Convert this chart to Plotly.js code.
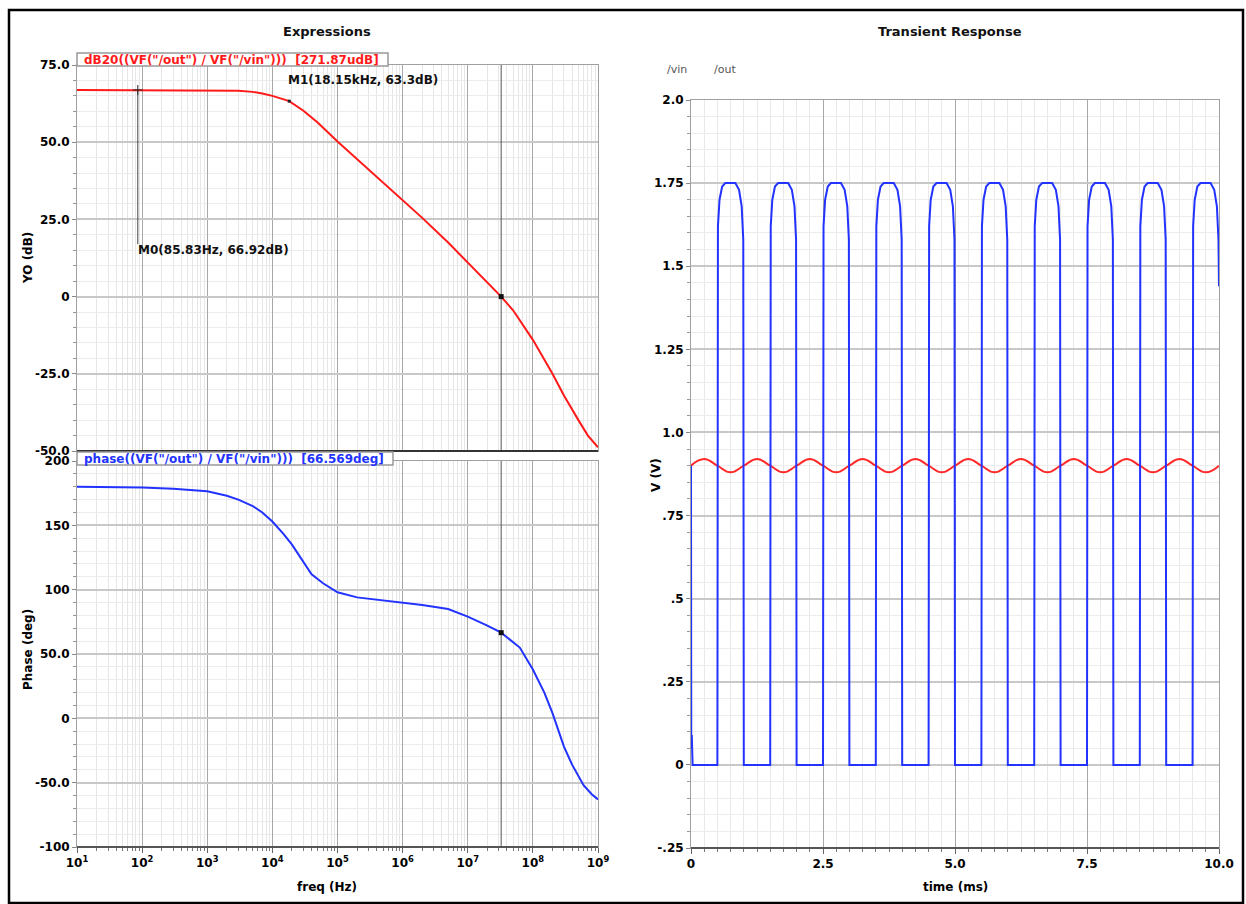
<!DOCTYPE html>
<html><head><meta charset="utf-8">
<script src="https://cdn.plot.ly/plotly-3.0.1.min.js"></script>
<style>html,body{margin:0;padding:0;background:#fff}#chart{width:1246px;height:904px}</style>
</head><body><div id="chart"></div>
<script>
// ---------- data ----------
const magFreq = [10, 100, 1000, 2000, 3000, 5000, 7000, 10000, 18150, 30000, 50000, 100000, 200000, 500000, 1e6, 2e6, 5e6, 1e7, 2e7, 3.26e7, 5e7, 1e8, 2e8, 3e8, 5e8, 7e8, 1e9];
const magDB   = [66.92, 66.92, 66.9, 66.85, 66.7, 66.3, 65.8, 65.0, 63.3, 60.2, 56.3, 50.2, 44.5, 37.0, 31.0, 25.5, 17.5, 11.0, 4.5, 0, -4.5, -14, -25, -32, -40, -45, -48.8];

const phFreq = [10, 30, 100, 300, 1000, 2000, 3000, 5000, 7000, 10000, 15000, 20000, 30000, 40000, 60000, 100000, 200000, 500000, 1e6, 2e6, 5e6, 1e7, 2e7, 3.26e7, 6.3e7, 1e8, 1.5e8, 2e8, 3e8, 4e8, 6e8, 8e8, 1e9];
const phDeg  = [180, 179.8, 179.4, 178.5, 176.5, 173, 170, 165, 160, 153, 143, 135, 121, 112, 105, 98, 94, 91.5, 90, 88, 85, 79, 72, 66.569, 55, 38, 20, 4, -22, -36, -52, -59, -63];

const vinT = [0,0.25,0.5,0.75,1,1.25,1.5,1.75,2,2.25,2.5,2.75,3,3.25,3.5,3.75,4,4.25,4.5,4.75,5,5.25,5.5,5.75,6,6.25,6.5,6.75,7,7.25,7.5,7.75,8,8.25,8.5,8.75,9,9.25,9.5,9.75,10];
const vinV = [0.9,0.92,0.9,0.88, 0.9,0.92,0.9,0.88, 0.9,0.92,0.9,0.88, 0.9,0.92,0.9,0.88, 0.9,0.92,0.9,0.88, 0.9,0.92,0.9,0.88, 0.9,0.92,0.9,0.88, 0.9,0.92,0.9,0.88, 0.9,0.92,0.9,0.88, 0.9,0.92,0.9,0.88, 0.9];

const outT = [0,0.005,0.015,0.03,
  0.5,0.51,0.54,0.59,0.65,0.84,0.91,0.96,0.99,1.0,
  1.5,1.51,1.54,1.59,1.65,1.84,1.91,1.96,1.99,2.0,
  2.5,2.51,2.54,2.59,2.65,2.84,2.91,2.96,2.99,3.0,
  3.5,3.51,3.54,3.59,3.65,3.84,3.91,3.96,3.99,4.0,
  4.5,4.51,4.54,4.59,4.65,4.84,4.91,4.96,4.99,5.0,
  5.5,5.51,5.54,5.59,5.65,5.84,5.91,5.96,5.99,6.0,
  6.5,6.51,6.54,6.59,6.65,6.84,6.91,6.96,6.99,7.0,
  7.5,7.51,7.54,7.59,7.65,7.84,7.91,7.96,7.99,8.0,
  8.5,8.51,8.54,8.59,8.65,8.84,8.91,8.96,8.99,9.0,
  9.5,9.51,9.54,9.59,9.65,9.84,9.91,9.96,9.99,10.0];
const outV = [0.9,0.05,0.09,0,
  0,1.62,1.70,1.74,1.75,1.75,1.73,1.68,1.58,0,
  0,1.62,1.70,1.74,1.75,1.75,1.73,1.68,1.58,0,
  0,1.62,1.70,1.74,1.75,1.75,1.73,1.68,1.58,0,
  0,1.62,1.70,1.74,1.75,1.75,1.73,1.68,1.58,0,
  0,1.62,1.70,1.74,1.75,1.75,1.73,1.68,1.58,0,
  0,1.62,1.70,1.74,1.75,1.75,1.73,1.68,1.58,0,
  0,1.62,1.70,1.74,1.75,1.75,1.73,1.68,1.58,0,
  0,1.62,1.70,1.74,1.75,1.75,1.73,1.68,1.58,0,
  0,1.62,1.70,1.74,1.75,1.75,1.73,1.68,1.58,0,
  0,1.62,1.70,1.74,1.75,1.75,1.73,1.68,1.58,1.44];

// markers
const m0 = {f: 85.83, db: 66.92, label: 'M0(85.83Hz, 66.92dB)'};
const m1 = {f: 18150, db: 63.3, label: 'M1(18.15kHz, 63.3dB)'};
const ugf = {f: 3.26e7, db: 0, deg: 66.569};

// tick labels
const freqTickVals = [10, 100, 1000, 1e4, 1e5, 1e6, 1e7, 1e8, 1e9];
const freqTickText = ['10<sup>1</sup>','10<sup>2</sup>','10<sup>3</sup>','10<sup>4</sup>','10<sup>5</sup>','10<sup>6</sup>','10<sup>7</sup>','10<sup>8</sup>','10<sup>9</sup>'];
const magTickVals = [75, 50, 25, 0, -25, -50];
const magTickText = ['75.0','50.0','25.0','0','-25.0','-50.0'];
const phTickVals = [200, 150, 100, 50, 0, -50, -100];
const phTickText = ['200','150','100','50.0','0','-50.0','-100'];
const vTickVals = [2.0, 1.75, 1.5, 1.25, 1.0, 0.75, 0.5, 0.25, 0, -0.25];
const vTickText = ['2.0','1.75','1.5','1.25','1.0','.75','.5','.25','0','-.25'];
const tTickVals = [0, 2.5, 5, 7.5, 10];
const tTickText = ['0','2.5','5.0','7.5','10.0'];

// ---------- layout helpers ----------
const W = 1246, H = 904;
const px = x => x / W;
const py = y => 1 - y / H;
const FONT = 'DejaVu Sans, Arial, sans-serif';
const tickFont = {family: FONT, size: 12, color: '#000', weight: 'bold'};

const RED = '#ff1a1a', BLUE = '#2233ff', MK = '#444';

const traces = [
  {x: [ugf.f, ugf.f], y: [-50, 75], xaxis: 'x', yaxis: 'y', mode: 'lines', line: {color: '#555', width: 1}},
  {x: [ugf.f, ugf.f], y: [-100, 200], xaxis: 'x2', yaxis: 'y2', mode: 'lines', line: {color: '#555', width: 1}},
  {x: [m0.f, m0.f], y: [m0.db, 17], xaxis: 'x', yaxis: 'y', mode: 'lines', line: {color: MK, width: 1}},
  {x: magFreq, y: magDB, xaxis: 'x', yaxis: 'y', mode: 'lines', line: {color: RED, width: 2}},
  {x: phFreq, y: phDeg, xaxis: 'x2', yaxis: 'y2', mode: 'lines', line: {color: BLUE, width: 2}},
  {x: [m0.f], y: [m0.db], xaxis: 'x', yaxis: 'y', mode: 'markers', marker: {symbol: 'cross-thin', size: 7, line: {color: '#222', width: 1}}},
  {x: [m1.f], y: [m1.db], xaxis: 'x', yaxis: 'y', mode: 'markers', marker: {symbol: 'square', size: 3, color: '#222'}},
  {x: [ugf.f], y: [ugf.db], xaxis: 'x', yaxis: 'y', mode: 'markers', marker: {symbol: 'square', size: 5, color: '#111'}},
  {x: [ugf.f], y: [ugf.deg], xaxis: 'x2', yaxis: 'y2', mode: 'markers', marker: {symbol: 'square', size: 5, color: '#111'}},
  {x: vinT, y: vinV, xaxis: 'x3', yaxis: 'y3', mode: 'lines', line: {color: '#ff2a2a', width: 2, shape: 'spline', smoothing: 1.3}},
  {x: outT, y: outV, xaxis: 'x3', yaxis: 'y3', mode: 'lines', line: {color: BLUE, width: 2}}
];

const logX = (dom, anchor, showLabels) => ({
  domain: dom, anchor: anchor, type: 'log', range: [1, 9],
  tickvals: freqTickVals, ticktext: freqTickText, showticklabels: showLabels,
  tickfont: tickFont, ticks: showLabels ? 'outside' : '', ticklen: 5, tickcolor: '#666',
  showgrid: true, gridcolor: '#a8a8a8', gridwidth: 1,
  minor: {dtick: 'D1', showgrid: true, gridcolor: '#e6e6e6', gridwidth: 1, ticks: showLabels ? 'outside' : '', ticklen: 3, tickcolor: '#777'},
  showline: true, linecolor: '#a0a0a0', linewidth: 1, mirror: true, zeroline: false, fixedrange: true
});

const linY = (dom, anchor, range, vals, text, minorD) => ({
  domain: dom, anchor: anchor, range: range, tickvals: vals, ticktext: text,
  tickfont: tickFont, ticks: 'outside', ticklen: 4, tickcolor: '#888',
  showgrid: true, gridcolor: '#c8c8c8', gridwidth: 2,
  minor: {dtick: minorD, showgrid: true, gridcolor: '#ececec', gridwidth: 1, ticks: 'outside', ticklen: 3, tickcolor: '#999'},
  showline: true, linecolor: '#a0a0a0', linewidth: 1, mirror: true, zeroline: false, fixedrange: true
});

const ann = (x, y, text, opt) => Object.assign({
  xref: 'paper', yref: 'paper', x: px(x), y: py(y), text: text, showarrow: false,
  xanchor: 'center', yanchor: 'middle',
  font: {family: FONT, size: 12, color: '#000', weight: 'bold'}
}, opt || {});

const layout = {
  width: W, height: H, margin: {l: 0, r: 0, t: 0, b: 0},
  paper_bgcolor: '#fff', plot_bgcolor: '#fff', showlegend: false, hovermode: false,
  xaxis: logX([px(77), px(598)], 'y', false),
  yaxis: linY([py(451), py(65)], 'x', [-50, 75], magTickVals, magTickText, 5),
  xaxis2: logX([px(77), px(598)], 'y2', true),
  yaxis2: linY([py(847), py(461)], 'x2', [-100, 200], phTickVals, phTickText, 10),
  xaxis3: {
    domain: [px(691), px(1219)], anchor: 'y3', range: [0, 10], tickvals: tTickVals, ticktext: tTickText,
    tickfont: tickFont, ticks: 'outside', ticklen: 5, tickcolor: '#666',
    showgrid: true, gridcolor: '#a8a8a8', gridwidth: 1,
    minor: {dtick: 0.25, showgrid: true, gridcolor: '#e8e8e8', gridwidth: 1, ticks: 'outside', ticklen: 3, tickcolor: '#777'},
    showline: true, linecolor: '#a0a0a0', mirror: true, zeroline: false, fixedrange: true
  },
  yaxis3: linY([py(848), py(100)], 'x3', [-0.25, 2.0], vTickVals, vTickText, 0.05),
  shapes: [
    {type: 'rect', xref: 'paper', yref: 'paper', x0: px(9), x1: px(1243), y0: py(903), y1: py(10), line: {color: '#000', width: 2.5}},
    {type: 'line', xref: 'paper', yref: 'paper', x0: px(77), x1: px(598), y0: py(451), y1: py(451), line: {color: '#333', width: 2}},
    {type: 'line', xref: 'paper', yref: 'paper', x0: px(77), x1: px(598), y0: py(847), y1: py(847), line: {color: '#555', width: 2}},
    {type: 'line', xref: 'paper', yref: 'paper', x0: px(691), x1: px(1219), y0: py(848), y1: py(848), line: {color: '#555', width: 2}},
    {type: 'rect', xref: 'paper', yref: 'paper', x0: px(77), x1: px(388), y0: py(66), y1: py(53), fillcolor: '#fff', line: {color: '#999', width: 1.5}},
    {type: 'rect', xref: 'paper', yref: 'paper', x0: px(77), x1: px(393), y0: py(465), y1: py(452), fillcolor: '#fff', line: {color: '#999', width: 1.5}}
  ],
  annotations: [
    ann(327, 31, 'Expressions', {font: {family: FONT, size: 13, color: '#111', weight: 'bold'}}),
    ann(950, 31, 'Transient Response', {font: {family: FONT, size: 13, color: '#111', weight: 'bold'}}),
    ann(82, 60, 'dB20((VF("/out") / VF("/vin")))\u00a0 [271.87udB]', {xanchor: 'left', font: {family: FONT, size: 12, color: '#ff1a1a', weight: 'bold'}}),
    ann(82, 459, 'phase((VF("/out") / VF("/vin")))\u00a0 [66.569deg]', {xanchor: 'left', font: {family: FONT, size: 12, color: '#2233ff', weight: 'bold'}}),
    ann(286, 80, m1.label, {xanchor: 'left', font: {family: FONT, size: 12, color: '#111', weight: 'bold'}}),
    ann(136, 250, m0.label, {xanchor: 'left', font: {family: FONT, size: 12, color: '#111', weight: 'bold'}}),
    ann(28, 258, 'YO (dB)', {textangle: -90}),
    ann(28, 650, 'Phase (deg)', {textangle: -90}),
    ann(656, 475, 'V (V)', {textangle: -90}),
    ann(327, 887, 'freq (Hz)'),
    ann(955, 887, 'time (ms)'),
    ann(665, 69, '/vin', {xanchor: 'left', font: {family: FONT, size: 11, color: '#555'}}),
    ann(712, 69, '/out', {xanchor: 'left', font: {family: FONT, size: 11, color: '#555'}})
  ]
};

Plotly.newPlot('chart', traces, layout, {displayModeBar: false, staticPlot: true});
</script></body></html>
